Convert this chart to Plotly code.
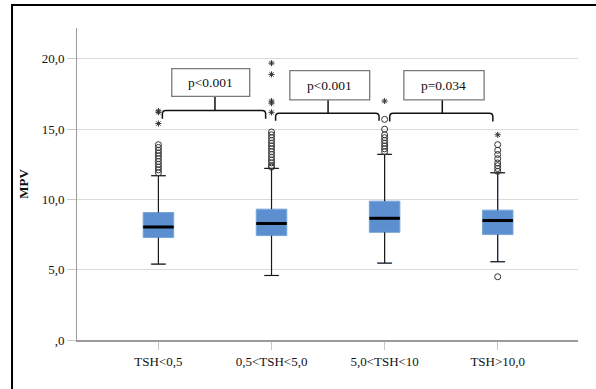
import plotly.graph_objects as go

# ---------------- data ----------------
categories = ["TSH<0,5", "0,5<TSH<5,0", "5,0<TSH<10", "TSH>10,0"]
q1 = [7.29, 7.43, 7.66, 7.50]
median = [8.04, 8.29, 8.66, 8.50]
q3 = [9.07, 9.31, 9.88, 9.24]
lower_whisker = [5.40, 4.59, 5.47, 5.57]
upper_whisker = [11.69, 12.21, 13.21, 11.90]

circle_outliers = [
    [13.9, 13.7, 13.5, 13.3, 13.1, 12.9, 12.7, 12.5, 12.3, 12.1, 11.9],
    [14.8, 14.6, 14.4, 14.2, 14.0, 13.8, 13.6, 13.4, 13.2, 13.0, 12.8, 12.6, 12.4, 12.3],
    [15.7, 15.0, 14.6, 14.4, 14.2, 14.0, 13.8, 13.6, 13.4],
    [13.9, 13.5, 13.2, 12.9, 12.6, 12.4, 12.2, 12.0, 4.5],
]
star_outliers = [
    [16.3, 16.2, 15.4],
    [19.7, 18.9, 17.0, 16.85, 16.2],
    [17.0],
    [14.6],
]

p_labels = ["p<0.001", "p<0.001", "p=0.034"]

y_tickvals = [0, 5, 10, 15, 20]
y_ticktext = [",0", "5,0", "10,0", "15,0", "20,0"]

# ---------------- style ----------------
BOX_FILL = "#5b8fd0"
BOX_EDGE = "#79a5d9"
SERIF = "Liberation Serif"
BOX_W = 0.27
CAP_HW = 0.064

fig = go.Figure()

for i, cat in enumerate(categories):
    fig.add_trace(go.Box(
        x=[i], q1=[q1[i]], median=[median[i]], q3=[q3[i]],
        lowerfence=[lower_whisker[i]], upperfence=[upper_whisker[i]],
        width=BOX_W, fillcolor=BOX_FILL,
        line=dict(color=BOX_EDGE, width=1),
        boxpoints=False, showlegend=False, name=cat, hoverinfo="skip",
    ))
    # whiskers and caps (black)
    fig.add_trace(go.Scatter(
        x=[i, i, None, i, i, None,
           i - CAP_HW, i + CAP_HW, None, i - CAP_HW, i + CAP_HW],
        y=[q3[i], upper_whisker[i], None, lower_whisker[i], q1[i], None,
           upper_whisker[i], upper_whisker[i], None, lower_whisker[i], lower_whisker[i]],
        mode="lines", line=dict(color="#1a1a1a", width=1.2),
        showlegend=False, hoverinfo="skip",
    ))
    # median
    fig.add_trace(go.Scatter(
        x=[i - BOX_W / 2, i + BOX_W / 2], y=[median[i], median[i]],
        mode="lines", line=dict(color="#000000", width=3),
        showlegend=False, hoverinfo="skip",
    ))
    # outliers
    fig.add_trace(go.Scatter(
        x=[i] * len(circle_outliers[i]), y=circle_outliers[i],
        mode="markers",
        marker=dict(symbol="circle-open", size=6, color="#333333", line=dict(width=1)),
        showlegend=False, hoverinfo="skip",
    ))
    fig.add_trace(go.Scatter(
        x=[i] * len(star_outliers[i]), y=star_outliers[i],
        mode="markers",
        marker=dict(symbol="asterisk-open", size=5, color="#333333", line=dict(width=1, color="#333333")),
        showlegend=False, hoverinfo="skip",
    ))

# ---------------- significance brackets ----------------
brackets = [
    dict(x0=0.035, x1=0.948, level=16.33, end=15.74, stem=0.50, bx0=0.118, bx1=0.807, by0=17.33, by1=19.31),
    dict(x0=1.036, x1=1.951, level=16.14, end=15.60, stem=1.50, bx0=1.162, bx1=1.868, by0=17.09, by1=19.16),
    dict(x0=2.045, x1=2.957, level=16.14, end=15.54, stem=2.51, bx0=2.170, bx1=2.880, by0=17.09, by1=19.16),
]
shapes = []
for b, lab in zip(brackets, p_labels):
    r = 0.03
    ry = 0.25
    path = (f"M {b['x0']},{b['end']} L {b['x0']},{b['level'] - ry} "
            f"Q {b['x0']},{b['level']} {b['x0'] + r},{b['level']} "
            f"L {b['x1'] - r},{b['level']} "
            f"Q {b['x1']},{b['level']} {b['x1']},{b['level'] - ry} "
            f"L {b['x1']},{b['end']}")
    shapes.append(dict(type="path", xref="x", yref="y", path=path,
                       line=dict(color="#111111", width=1.5)))
    shapes.append(dict(type="line", xref="x", yref="y", x0=b["stem"], x1=b["stem"],
                       y0=b["level"], y1=b["by0"], line=dict(color="#111111", width=1.5)))
    shapes.append(dict(type="rect", xref="x", yref="y", x0=b["bx0"], x1=b["bx1"],
                       y0=b["by0"], y1=b["by1"], line=dict(color="#7a7a7a", width=1.3),
                       fillcolor="white"))
    fig.add_annotation(x=(b["bx0"] + b["bx1"]) / 2, y=(b["by0"] + b["by1"]) / 2,
                       xref="x", yref="y", text=lab, showarrow=False,
                       font=dict(family=SERIF, size=13.5, color="#111111"))

# outer frame (clipped image border)
shapes.append(dict(type="path", xref="paper", yref="paper",
                   path="M -0.1297,-0.3 L -0.1297,1.0737 L 1.2,1.0737",
                   line=dict(color="#000000", width=2)))

fig.update_layout(
    width=596, height=389,
    margin=dict(l=77, r=18, t=28, b=49),
    paper_bgcolor="white", plot_bgcolor="white",
    shapes=shapes,
    xaxis=dict(
        range=[-0.72, 3.71], tickvals=list(range(len(categories))), ticktext=categories,
        showgrid=False, zeroline=False,
        showline=True, linecolor="#9a9a9a", linewidth=2,
        ticks="outside", ticklen=8, tickcolor="#c8c8c8", tickwidth=1,
        tickfont=dict(family=SERIF, size=13, color="#111111"),
    ),
    yaxis=dict(
        range=[0, 22.2], tickvals=y_tickvals, ticktext=y_ticktext,
        showgrid=True, gridcolor="#dadada", gridwidth=1, zeroline=False,
        showline=True, linecolor="#9a9a9a", linewidth=1,
        ticks="outside", ticklen=9, tickcolor="#c8c8c8", tickwidth=1,
        tickfont=dict(family=SERIF, size=13, color="#111111"),
        title=dict(text="<b>MPV</b>", font=dict(family=SERIF, size=13, color="#111111"), standoff=10),
    ),
)

fig.write_html("out.html", config={"displayModeBar": False},
               post_script="document.body.style.margin='0px';")
